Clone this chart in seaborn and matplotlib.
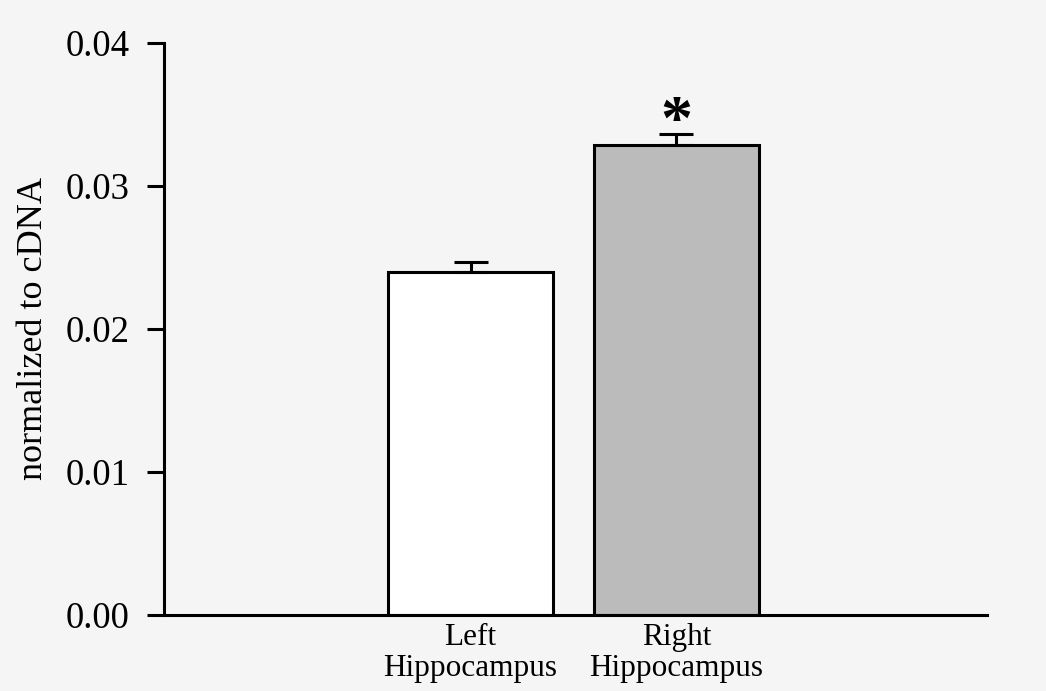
import matplotlib
matplotlib.use("Agg")
import matplotlib.pyplot as plt
import seaborn as sns
import pandas as pd
import numpy as np

categories = ["Left\nHippocampus", "Right\nHippocampus"]
values = [0.0240, 0.0329]
errors = [0.00065, 0.00072]
bar_colors = ["#ffffff", "#bbbbbb"]
y_ticks = [0.00, 0.01, 0.02, 0.03, 0.04]
y_label = "normalized to cDNA"
star_label = "*"

sns.set_theme(style="white")
plt.rcParams["font.family"] = ["Liberation Serif", "DejaVu Serif"]

bg = "#f5f5f5"
fig = plt.figure(figsize=(10.46, 6.91), dpi=100, facecolor=bg)
ax = fig.add_axes([0.1568, 0.110, 0.7868, 0.8278])
ax.set_facecolor(bg)

df = pd.DataFrame({"cat": categories, "val": values})
sns.barplot(data=df, x="cat", y="val", hue="cat", palette=bar_colors,
            order=categories, hue_order=categories, legend=False,
            edgecolor="black", linewidth=2.2, width=0.8, ax=ax,
            errorbar=None, saturation=1)

xs = np.arange(len(categories))
ax.errorbar(xs, values, yerr=[np.zeros(len(errors)), errors], fmt="none",
            ecolor="black", elinewidth=2.2, capsize=12.5, capthick=2.2, zorder=1)

ax.text(xs[1], values[1] + errors[1] + 0.00072, star_label, ha="center", va="center",
        fontsize=46, fontweight="bold", color="black")

ax.set_xlim(-1.49, 2.51)
ax.set_ylim(0, 0.04)
ax.set_yticks(y_ticks)
ax.set_yticklabels([f"{t:.2f}" for t in y_ticks])
ax.set_xlabel("")
ax.set_ylabel(y_label, fontsize=26, labelpad=11, color="black")
ax.tick_params(axis="y", which="both", left=True, length=12, width=2.2,
               direction="out", labelsize=26.5, pad=13, colors="black")
ax.tick_params(axis="x", length=0, labelsize=22.5, pad=6, colors="black")
for lbl in ax.get_xticklabels():
    lbl.set_linespacing(1.08)

for s in ["top", "right"]:
    ax.spines[s].set_visible(False)
for s in ["left", "bottom"]:
    ax.spines[s].set_linewidth(2.2)
    ax.spines[s].set_color("black")

fig.savefig("out.png", dpi=100, facecolor=bg)
